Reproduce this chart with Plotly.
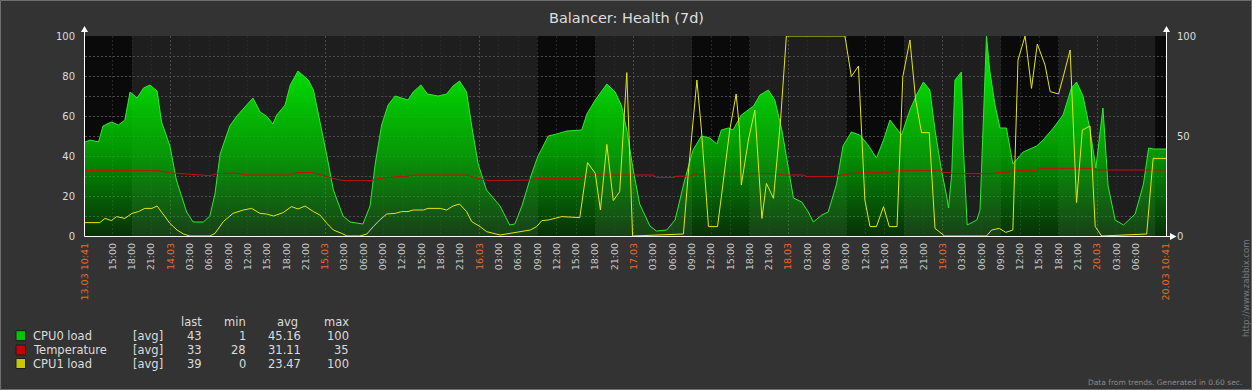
import plotly.graph_objects as go
import pandas as pd

# ---------------- data ----------------
START = pd.Timestamp("2015-03-13 10:41")
END = pd.Timestamp("2015-03-20 10:41")

# hours since 13.03 10:41
cpu0_h = [0.0,0.8,2.1,2.8,4.1,5.2,6.2,7.0,8.1,9.1,
          10.1,11.2,11.9,13.2,14.2,15.8,16.8,18.4,19.4,20.2,
          21.0,22.5,23.6,25.1,26.1,27.2,28.2,29.2,29.8,31.1,
          31.9,33.1,34.7,35.5,36.5,37.6,38.6,40.1,41.2,43.2,
          44.3,45.1,46.1,47.1,48.2,49.2,50.2,51.0,52.2,53.2,
          54.9,56.2,57.2,58.2,59.3,60.1,61.1,62.4,64.5,66.0,
          66.8,67.9,69.4,70.4,72.0,73.3,74.9,77.2,78.0,79.3,
          81.1,82.4,83.4,84.2,85.2,86.2,87.8,88.8,90.4,91.7,
          93.2,94.5,95.8,97.1,98.2,98.9,100.0,100.7,102.0,103.9,
          104.9,106.2,107.2,108.3,109.3,110.1,111.4,112.4,113.2,114.5,
          115.5,116.8,117.8,119.1,120.4,121.7,123.0,124.1,125.1,126.9,
          128.2,129.3,130.3,131.3,132.1,133.1,133.9,134.2,134.7,135.2,
          136.2,136.5,137.1,138.6,139.1,139.6,140.1,140.6,141.4,142.2,
          143.2,144.2,145.3,145.8,147.9,148.9,150.5,152.0,153.3,154.1,
          155.1,156.2,157.1,158.2,159.0,160.1,161.4,163.2,164.5,165.3,
          166.1,168.0]
cpu0_v = [47,48,47,55,57,55.5,58,72,69,74,
          75.5,72.5,57,45,28,12,7,7,10,21,
          41,55,60,65.5,69,62,60,56,60.5,65.5,
          75.5,82.5,78,73,58,40,23,10,7,6,
          15,36,55.5,65.5,70,69,68,72,75.5,71,
          70,71,75,77.5,72,55,36,23,15,5.5,
          6,15,31,40,50,51,52.5,53,61,68,
          76,72,65,53,33,16,5,2.5,3,8,
          28,43,50,49,46,53,54,53,60.5,65,
          70.5,73,68,53,33,19,17,12,7,10.5,
          12,26,45,52,50.5,45.5,39,48,58,50.5,
          63,71,77,73,53,33,20,14,31,78,
          82,45,5.5,8,13,53,100,83,66,54,
          54,36,40,42,45,48,54,60.5,74,77,
          70,53,34,64,25,8,5.5,11,26,44,
          43.5,43.5]

temp_h = [0,11.2,13.5,17.1,19.4,20.5,23.3,25.2,31.9,32.9,
          35.4,37.6,38.5,40.1,44.3,45.8,48.5,50.0,51.0,59.4,
          60.9,62.9,69.2,70.2,76.9,78.0,88.3,88.9,91.4,92.0,
          94.0,95.1,107.5,108.5,111.6,112.2,116.2,118.9,120.4,124.6,
          126.2,132.9,133.3,134.4,134.9,141.1,141.7,143.3,144.2,147.9,
          148.4,156.6,157.3,168]
temp_v = [32.7,32.7,31.5,30.5,30.2,31.2,31.5,30.5,30.5,31.7,
          31.7,29.7,28.8,27.7,27.7,28.8,29.7,29.7,30.5,30.5,
          28.8,27.7,28,28.8,28.8,30.5,30.5,29.2,29.2,29.9,
          29.9,31.2,31.2,30.5,30.5,29.7,29.7,31.2,31.7,31.7,
          32.7,32.7,31.7,31.7,31.2,31.2,31.7,31.7,32.7,32.7,
          33.8,33.8,33,33]

cpu1_h = [0,2.3,3.1,4.1,4.9,6.2,7.3,8.3,9.3,10.4,
          11.2,12.2,13.2,14.3,15.3,16.3,19.4,20.2,21.5,23.0,
          24.6,25.9,27.2,28.2,29.3,30.8,32.1,33.1,34.2,35.5,
          36.5,37.6,38.6,39.9,40.7,42.7,43.8,44.8,45.8,46.9,
          48.2,49.2,50.2,51.0,52.6,53.3,55.2,56.2,57.2,58.2,
          59.3,60.1,61.4,62.4,64.5,69.2,70.2,71.0,72.0,74.1,
          76.9,78.1,79.3,80.1,81.1,82.1,83.1,84.2,85.1,93.0,
          93.8,95.1,95.8,96.9,98.3,98.9,100.2,101.2,101.7,102.0,
          103.1,104.1,105.2,105.9,107.0,108.1,109.0,118.1,119.1,120.2,
          121.2,122.0,123.0,124.1,125.0,126.2,127.1,128.2,129.1,130.0,
          131.2,132.1,133.6,140.1,140.9,142.1,143.1,144.2,145.0,146.1,
          147.1,148.0,149.2,150.0,151.3,152.1,153.1,154.1,155.0,156.2,
          157.0,158.0,165.0,166.0,168]
cpu1_v = [6.7,6.7,8.8,7.7,9.7,8.8,11.3,12.2,13.8,13.8,
          15,10.5,6.3,3,1,0,0,1.3,7.2,11.3,
          13,13.8,11.3,11,10,11.7,14.7,13.5,15,12.2,
          10.5,6.3,3,1.3,0,0,1,4.7,8,11,
          11.3,12.2,12.2,13,13,13.8,13.8,13,15,16,
          12.2,7.2,4.7,2.2,0.5,3,4.7,7.7,8,9.7,
          9.2,36.7,31.3,13,45.8,17.7,22.2,81.7,0,1,
          33,78,53,4.7,4.7,19.7,53,71,53.8,25.5,
          48,63,8.8,26.3,18.8,58,100,100,79.7,85,
          18,4.7,4.7,14.7,4.7,4.7,79.7,98,68,51.7,
          51.7,3.8,0,0,3,3.8,1.8,3,88,100,
          73.8,96,85.5,72.2,71,80.5,93,16.7,53,55,
          4.7,0,1,38.8,38.8]

assert len(cpu0_h) == len(cpu0_v)
assert len(temp_h) == len(temp_v)
assert len(cpu1_h) == len(cpu1_v)

# working time (drawn darker)
work_periods = [("2015-03-13 10:41", "2015-03-13 18:00"),
                ("2015-03-16 09:00", "2015-03-16 18:00"),
                ("2015-03-17 09:00", "2015-03-17 18:00"),
                ("2015-03-18 09:00", "2015-03-18 18:00"),
                ("2015-03-19 09:00", "2015-03-19 18:00"),
                ("2015-03-20 09:00", "2015-03-20 10:41")]

series_names = ["CPU0 load", "Temperature", "CPU1 load"]
series_colors = ["#00c800", "#c80000", "#c8c800"]
legend_func = "[avg]"
legend_last = ["43", "33", "39"]
legend_min = ["1", "28", "0"]
legend_avg = ["45.16", "31.11", "23.47"]
legend_max = ["100", "35", "100"]

left_ticks = [0, 20, 40, 60, 80, 100]
right_ticks = [0, 50, 100]
hgrid_vals = [10, 20, 30, 40, 50, 60, 70, 80, 90]

tick_times = [START] + list(pd.date_range("2015-03-13 15:00", "2015-03-20 06:00", freq="3h")) + [END]
midnights = list(pd.date_range("2015-03-14", "2015-03-20", freq="D"))

TITLE = "Balancer: Health (7d)"

# ---------------- styling ----------------
ORANGE = "#e8682a"
FONT = "DejaVu Sans"
W, H = 1252, 390
L, R, T, B = 85, 1166, 36, 236


def fx(px):
    return (px - L) / (R - L)


def fy(py):
    return (B - py) / (B - T)


def to_time(hours):
    return [START + pd.Timedelta(hours=h) for h in hours]


def tick_label(t):
    if t == START or t == END:
        return f'<span style="color:{ORANGE}">{t:%d.%m %H:%M}</span>'
    if t.hour == 0:
        return f'<span style="color:{ORANGE}">{t:%d.%m}</span>'
    return f"{t:%H:%M}"


tick_text = [tick_label(t) for t in tick_times]

fig = go.Figure()

fig.add_trace(go.Scatter(
    x=to_time(cpu0_h), y=cpu0_v, mode="lines", name=series_names[0],
    line=dict(color="#2ee82e", width=1), fill="tozeroy",
    fillgradient=dict(type="vertical", start=0, stop=85,
                      colorscale=[[0, "rgba(0,185,0,0.22)"],
                                  [0.5, "rgba(0,190,0,0.78)"],
                                  [1, "rgba(0,225,0,1)"]]),
    showlegend=False, hoverinfo="skip"))
fig.add_trace(go.Scatter(
    x=to_time(temp_h), y=temp_v, mode="lines", name=series_names[1],
    line=dict(color="#c41010", width=1), showlegend=False, hoverinfo="skip"))
fig.add_trace(go.Scatter(
    x=to_time(cpu1_h), y=cpu1_v, mode="lines", name=series_names[2],
    line=dict(color="#e4e418", width=1), showlegend=False, hoverinfo="skip"))

# dummy traces so overlay axes (midnight grid, horizontal grid, right labels) are drawn
fig.add_trace(go.Scatter(x=[START, END], y=[None, None], xaxis="x2", yaxis="y3",
                         mode="lines", showlegend=False, hoverinfo="skip"))
fig.add_trace(go.Scatter(x=[START, END], y=[None, None], xaxis="x", yaxis="y2",
                         mode="lines", showlegend=False, hoverinfo="skip"))

shapes = []
for a, b in work_periods:
    shapes.append(dict(type="rect", xref="x", yref="paper", x0=a, x1=b, y0=0, y1=1,
                       fillcolor="#0a0a0a", line=dict(width=0), layer="below"))

# outer border
shapes.append(dict(type="rect", xref="paper", yref="paper",
                   x0=fx(0.5), x1=fx(W - 0.5), y0=fy(H - 0.5), y1=fy(0.5),
                   line=dict(color="#6e6e6e", width=1), layer="above"))
# axis lines with arrows
ax_l, ax_r, ax_b = 84.5, 1166.5, 236.5
shapes.append(dict(type="line", xref="paper", yref="paper", x0=fx(ax_l), x1=fx(ax_l),
                   y0=fy(ax_b), y1=fy(30), line=dict(color="white", width=1)))
shapes.append(dict(type="line", xref="paper", yref="paper", x0=fx(ax_r), x1=fx(ax_r),
                   y0=fy(ax_b), y1=fy(30), line=dict(color="white", width=1)))
shapes.append(dict(type="line", xref="paper", yref="paper", x0=fx(ax_l), x1=fx(1171),
                   y0=fy(ax_b), y1=fy(ax_b), line=dict(color="white", width=1)))


def tri_up(cx, tip):
    return (f"M {fx(cx - 3.5)} {fy(tip + 6)} L {fx(cx)} {fy(tip)} "
            f"L {fx(cx + 3.5)} {fy(tip + 6)} Z")


shapes.append(dict(type="path", xref="paper", yref="paper", path=tri_up(ax_l, 26),
                   fillcolor="white", line=dict(width=0)))
shapes.append(dict(type="path", xref="paper", yref="paper", path=tri_up(ax_r, 26),
                   fillcolor="white", line=dict(width=0)))
shapes.append(dict(type="path", xref="paper", yref="paper",
                   path=(f"M {fx(1170)} {fy(ax_b - 3.5)} L {fx(1176.5)} {fy(ax_b)} "
                         f"L {fx(1170)} {fy(ax_b + 3.5)} Z"),
                   fillcolor="white", line=dict(width=0)))

# legend swatches
row_y = [335.7, 350.0, 363.5]
for yy, col in zip(row_y, series_colors):
    shapes.append(dict(type="rect", xref="paper", yref="paper",
                       x0=fx(16), x1=fx(25.5), y0=fy(yy + 5), y1=fy(yy - 5),
                       fillcolor=col, line=dict(color="#1c1c1c", width=1)))

annotations = []


def txt(x, y, s, anchor="left", size=11.5, color="#dcdcdc", **kw):
    annotations.append(dict(xref="paper", yref="paper", x=fx(x), y=fy(y), text=s,
                            showarrow=False, xanchor=anchor, yanchor="middle",
                            font=dict(family=FONT, size=size, color=color), **kw))


txt(626, 18, TITLE, anchor="center", size=14.5, color="#dedede")

header_y = 321.7
txt(204, header_y, "last", anchor="right")
txt(248, header_y, "min", anchor="right")
txt(287, header_y, "avg", anchor="center")
txt(351, header_y, "max", anchor="right")
for i, yy in enumerate(row_y):
    txt(31, yy, series_names[i])
    txt(131, yy, legend_func)
    txt(204, yy, legend_last[i], anchor="right")
    txt(248, yy, legend_min[i], anchor="right")
    txt(303, yy, legend_avg[i], anchor="right")
    txt(351, yy, legend_max[i], anchor="right")

txt(1244, 382, "Data from trends. Generated in 0.60 sec.", anchor="right", size=7.5,
    color="#8a8a8a")
annotations.append(dict(xref="paper", yref="paper", x=fx(1246), y=fy(288),
                        text="http://www.zabbix.com", showarrow=False, textangle=-90,
                        xanchor="center", yanchor="middle",
                        font=dict(family=FONT, size=8.5, color="#7a7a7a")))

fig.update_layout(
    width=W, height=H,
    margin=dict(l=L, r=W - R, t=T, b=H - B, pad=0),
    paper_bgcolor="#333333", plot_bgcolor="#1e1e1e",
    font=dict(family=FONT, color="#dcdcdc"),
    showlegend=False,
    shapes=shapes, annotations=annotations,
    xaxis=dict(type="date", range=[START, END], tickvals=tick_times, ticktext=tick_text,
               tickangle=-90, showgrid=True, gridcolor="#282828", griddash="2px,2px",
               gridwidth=1, zeroline=False, showline=False, ticks="",
               ticklabelstandoff=4,
               tickfont=dict(family=FONT, size=9.5, color="#c8c8c8"), fixedrange=True),
    xaxis2=dict(type="date", overlaying="x", range=[START, END], tickvals=midnights,
                showticklabels=False, showgrid=True, gridcolor="#4c4c4c",
                griddash="2px,2px", zeroline=False, showline=False, ticks=""),
    yaxis=dict(range=[0, 100], tickvals=left_ticks, showgrid=False, zeroline=False,
               showline=False, ticks="", ticklabelstandoff=9,
               tickfont=dict(family=FONT, size=10, color="#dcdcdc"), fixedrange=True),
    yaxis2=dict(range=[0, 100], overlaying="y", side="right", tickvals=right_ticks,
                showgrid=False, zeroline=False, showline=False, ticks="",
                ticklabelstandoff=10,
                tickfont=dict(family=FONT, size=10, color="#dcdcdc")),
    yaxis3=dict(range=[0, 100], overlaying="y", tickvals=hgrid_vals, showticklabels=False,
                showgrid=True, gridcolor="#4c4c4c", griddash="2px,2px", zeroline=False,
                showline=False, ticks=""),
)

fig.write_html(
    "out.html",
    config={"displayModeBar": False},
    post_script="document.body.style.margin='0';document.body.style.padding='0';"
                "document.body.style.overflow='hidden';",
)
